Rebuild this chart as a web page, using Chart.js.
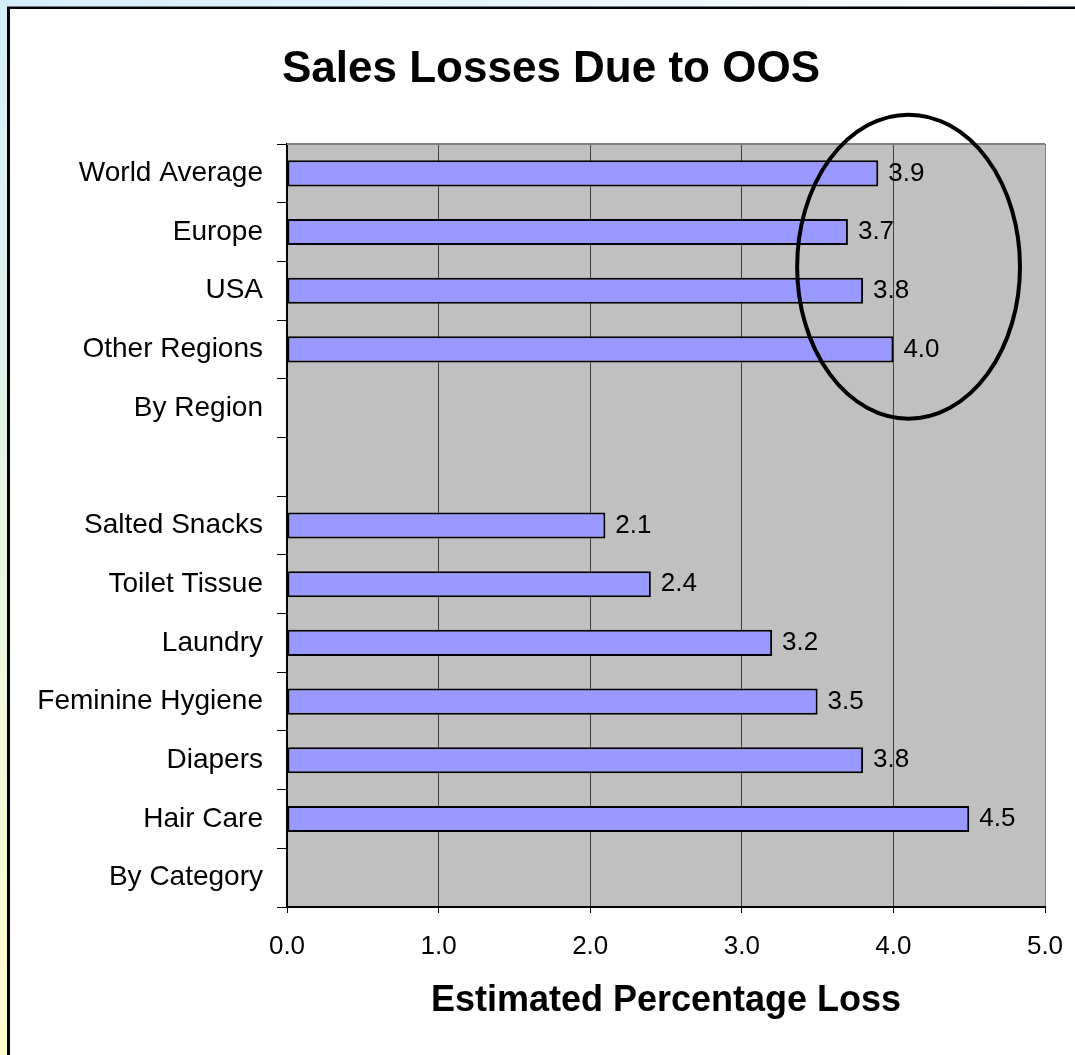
<!DOCTYPE html>
<html>
<head>
<meta charset="utf-8">
<title>Sales Losses Due to OOS</title>
<script src="https://cdn.jsdelivr.net/npm/chart.js@4.4.1/dist/chart.umd.min.js"></script>
<style>
  html, body { margin: 0; padding: 0; background: #ffffff; }
  #wrap { width: 1075px; height: 1055px; position: relative; }
  canvas { display: block; }
</style>
</head>
<body>
<div id="wrap"><canvas id="chart" width="1075" height="1055"></canvas></div>
<script>
// Row labels, top to bottom (blank rows separate the two groups)
const categories = [
  'World Average', 'Europe', 'USA', 'Other Regions', 'By Region', '',
  'Salted Snacks', 'Toilet Tissue', 'Laundry', 'Feminine Hygiene', 'Diapers', 'Hair Care', 'By Category'
];
// Estimated percentage of sales lost to out-of-stocks
const lossValues = [3.9, 3.7, 3.8, 4.0, null, null, 2.1, 2.4, 3.2, 3.5, 3.8, 4.5, null];
// Value axis range and step
const axisMin = 0;
const axisMax = 5;
const axisStep = 1;

const chartTitle = 'Sales Losses Due to OOS';
const axisTitle = 'Estimated Percentage Loss';
const FONT = '"Liberation Sans", Arial, sans-serif';

// Page frame: tinted margin strips and the black frame line
const framePlugin = {
  id: 'frame',
  beforeDraw(chart) {
    const { ctx, width, height, chartArea } = chart;
    ctx.save();
    ctx.fillStyle = '#ffffff';
    ctx.fillRect(0, 0, width, height);

    const vg = ctx.createLinearGradient(0, 0, 0, height);
    vg.addColorStop(0, '#d3eefb');
    vg.addColorStop(0.5, '#e8f4e2');
    vg.addColorStop(1, '#ffffcc');
    ctx.fillStyle = vg;
    ctx.fillRect(0, 0, 8, height);

    const hg = ctx.createLinearGradient(0, 0, width, 0);
    hg.addColorStop(0, '#d3eefb');
    hg.addColorStop(1, '#ffffff');
    ctx.fillStyle = hg;
    ctx.fillRect(8, 0, width - 8, 7);

    ctx.fillStyle = '#6f7f8c';
    ctx.fillRect(7, 6, width - 7, 1);
    ctx.fillStyle = '#000000';
    ctx.fillRect(7, 7, width - 7, 2);
    ctx.fillRect(7, 7, 3, height - 7);

    // plot area background
    ctx.fillStyle = '#c0c0c0';
    ctx.fillRect(chartArea.left, chartArea.top, chartArea.right - chartArea.left, chartArea.bottom - chartArea.top);
    ctx.restore();
  },
  beforeDatasetsDraw(chart) {
    // grey top edge of the plot area
    const { ctx, chartArea } = chart;
    ctx.save();
    ctx.strokeStyle = '#808080';
    ctx.lineWidth = 2;
    ctx.beginPath();
    ctx.moveTo(chartArea.left, chartArea.top);
    ctx.lineTo(chartArea.right, chartArea.top);
    ctx.stroke();
    ctx.restore();
  }
};

// Value labels at the end of each bar
const valueLabelPlugin = {
  id: 'valueLabels',
  afterDatasetsDraw(chart) {
    const { ctx } = chart;
    const meta = chart.getDatasetMeta(0);
    const data = chart.data.datasets[0].data;
    ctx.save();
    ctx.font = '26px ' + FONT;
    ctx.fillStyle = '#000000';
    ctx.textAlign = 'left';
    ctx.textBaseline = 'middle';
    meta.data.forEach((bar, i) => {
      const v = data[i];
      if (v === null || v === undefined) return;
      ctx.fillText(v.toFixed(1), bar.x + 10, bar.y);
    });
    ctx.restore();
  }
};

// Chart title, axis title and the highlight ring around the regional bars
const textAndRingPlugin = {
  id: 'textAndRing',
  afterDraw(chart) {
    const { ctx, chartArea, scales } = chart;
    ctx.save();
    ctx.fillStyle = '#000000';
    ctx.textAlign = 'center';
    ctx.textBaseline = 'alphabetic';
    ctx.font = 'bold 44px ' + FONT;
    ctx.fillText(chartTitle, 551, 82);
    ctx.font = 'bold 36px ' + FONT;
    ctx.fillText(axisTitle, (chartArea.left + chartArea.right) / 2, 1011);

    const xs = scales.x, ys = scales.y;
    const cx = xs.getPixelForValue(4.10);
    const cy = ys.getPixelForValue(1.59);
    const rx = xs.getPixelForValue(4.10 + 0.735) - cx;
    const ry = ys.getPixelForValue(1.59 + 2.59) - cy;
    ctx.strokeStyle = '#000000';
    ctx.lineWidth = 4;
    ctx.beginPath();
    ctx.ellipse(cx, cy, rx, ry, 0, 0, Math.PI * 2);
    ctx.stroke();
    ctx.restore();
  }
};

new Chart(document.getElementById('chart'), {
  type: 'bar',
  data: {
    labels: categories,
    datasets: [{
      data: lossValues,
      backgroundColor: '#9999ff',
      borderColor: '#000000',
      borderWidth: 2,
      borderSkipped: false,
      barPercentage: 0.445,
      categoryPercentage: 1.0
    }]
  },
  options: {
    indexAxis: 'y',
    responsive: false,
    animation: false,
    layout: { padding: { top: 144, right: 30, left: 0, bottom: 0 } },
    plugins: {
      legend: { display: false },
      tooltip: { enabled: false },
      title: { display: false }
    },
    scales: {
      x: {
        type: 'linear',
        min: axisMin,
        max: axisMax,
        afterFit(scale) {
          scale.height = 148;
          scale.paddingLeft = 0;
          scale.paddingRight = 0;
        },
        ticks: {
          stepSize: axisStep,
          padding: 18,
          color: '#000000',
          font: { family: FONT, size: 26 },
          callback: (v) => Number(v).toFixed(1)
        },
        grid: {
          drawOnChartArea: true,
          color: (c) => (c.tick && c.tick.value === axisMax ? '#808080' : '#404040'),
          lineWidth: 1,
          tickColor: '#000000',
          tickLength: 6
        },
        border: { display: true, color: '#000000', width: 2 }
      },
      y: {
        type: 'category',
        afterFit(scale) { scale.width = 287; },
        ticks: {
          padding: 14,
          color: '#000000',
          font: { family: FONT, size: 28 },
          autoSkip: false
        },
        grid: {
          offset: true,
          drawOnChartArea: false,
          color: '#000000',
          tickColor: '#000000',
          tickLength: 10,
          lineWidth: 1
        },
        border: { display: true, color: '#000000', width: 2 }
      }
    }
  },
  plugins: [framePlugin, valueLabelPlugin, textAndRingPlugin]
});
</script>
</body>
</html>
